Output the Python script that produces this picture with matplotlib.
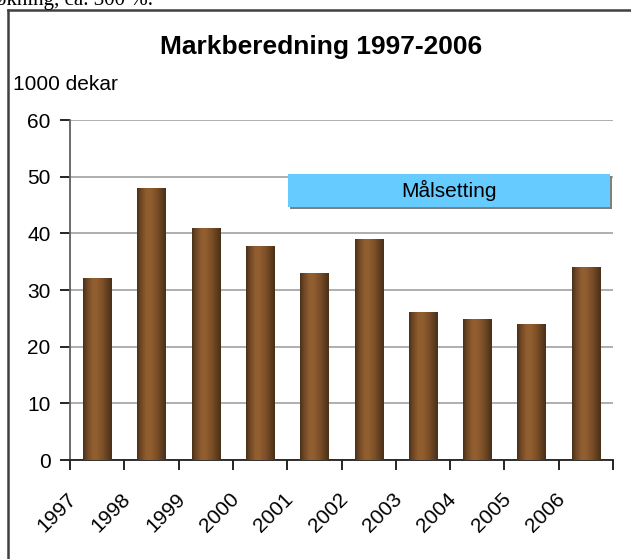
import matplotlib
matplotlib.use("Agg")
import matplotlib.pyplot as plt
import numpy as np
from matplotlib.colors import LinearSegmentedColormap
from matplotlib.patches import Rectangle
from matplotlib.transforms import ScaledTranslation
import matplotlib.lines as mlines

plt.rcParams['font.family'] = ['Liberation Sans', 'DejaVu Sans']

# ---- data ----
years = ['1997', '1998', '1999', '2000', '2001', '2002', '2003', '2004', '2005', '2006']
values = [32.2, 48.0, 41.0, 37.8, 33.0, 39.0, 26.2, 24.9, 24.0, 34.0]
y_ticks = [0, 10, 20, 30, 40, 50, 60]
title = 'Markberedning 1997-2006'
unit_label = '1000 dekar'
target_label = 'Målsetting'
target_low, target_high = 44.6, 50.5
target_start_year = '2001'
top_text = 'økning, ca. 300 %.'

W, H = 631, 559
fig = plt.figure(figsize=(W / 100, H / 100), dpi=100)
fig.patch.set_facecolor('white')

# partial text above frame (cut off)
fig.text(-4 / W, 1 - 5 / H, top_text, family='Liberation Serif', fontsize=15,
         ha='left', va='baseline', color='black')

# frame (left and top borders)
fig.add_artist(mlines.Line2D([7.5 / W, 7.5 / W], [0, 1 - 10 / H], transform=fig.transFigure,
                             color='#404040', lw=1.8))
fig.add_artist(mlines.Line2D([7.5 / W, 1.0], [1 - 10 / H, 1 - 10 / H], transform=fig.transFigure,
                             color='#404040', lw=1.8))

ax = fig.add_axes([70 / W, 1 - 460 / H, (613 - 70) / W, (460 - 120) / H])

x = np.arange(len(years))
bar_w = 0.52
bars = ax.bar(x, values, width=bar_w, color='#7a4f27', zorder=2, linewidth=0)

cmap = LinearSegmentedColormap.from_list('brown', [
    (0.0, '#47301a'), (0.12, '#6a4423'), (0.32, '#905d2f'), (0.45, '#935f30'),
    (0.7, '#7a4e27'), (0.88, '#5c3b1d'), (1.0, '#46301a')])
grad = np.linspace(0, 1, 256).reshape(1, -1)
for b in bars:
    x0 = b.get_x()
    im = ax.imshow(grad, cmap=cmap, aspect='auto', extent=[x0, x0 + b.get_width(), 0, b.get_height()],
                   zorder=3, interpolation='bilinear')
    im.set_clip_path(b)

ax.set_xlim(-0.5, len(years) - 0.5)
ax.set_ylim(0, 60)
ax.set_yticks(y_ticks)
ax.yaxis.grid(True, color='#a8a8a8', lw=1.3, zorder=0)
ax.set_axisbelow(True)

for s in ['top', 'right']:
    ax.spines[s].set_visible(False)
ax.spines['left'].set_color('#606060')
ax.spines['left'].set_linewidth(1.3)
ax.spines['bottom'].set_color('#202020')
ax.spines['bottom'].set_linewidth(1.3)

ax.tick_params(axis='y', direction='out', length=7, width=1.2, labelsize=15, pad=7, colors='black')
ax.tick_params(axis='x', direction='out', length=7, width=1.2, labelsize=15, pad=14, colors='black')

bounds = np.arange(len(years) + 1) - 0.5
ax.set_xticks(bounds)
ax.set_xticklabels(years + [''], rotation=45, ha='right', va='top')
off = ScaledTranslation(10 / 100, 0, fig.dpi_scale_trans)
for lab in ax.get_xticklabels():
    lab.set_transform(lab.get_transform() + off)

# target box (Målsetting)
start = years.index(target_start_year) - 0.5 + 0.02
end = len(years) - 0.5 - 0.05
shadow_off = ScaledTranslation(2 / 100, -2 / 100, fig.dpi_scale_trans)
ax.add_patch(Rectangle((start, target_low), end - start, target_high - target_low,
                       facecolor='#808080', edgecolor='none', zorder=4, clip_on=False,
                       transform=ax.transData + shadow_off))
ax.add_patch(Rectangle((start, target_low), end - start, target_high - target_low,
                       facecolor='#66ccff', edgecolor='none', zorder=5, clip_on=False))
ax.text((start + end) / 2, (target_low + target_high) / 2, target_label, ha='center', va='center',
        fontsize=15, zorder=6)

fig.text(321 / W, 1 - 47 / H, title, ha='center', va='center', fontsize=19, fontweight='bold')
fig.text(13 / W, 1 - 85 / H, unit_label, ha='left', va='center', fontsize=15)

fig.savefig('out.png', dpi=100)
